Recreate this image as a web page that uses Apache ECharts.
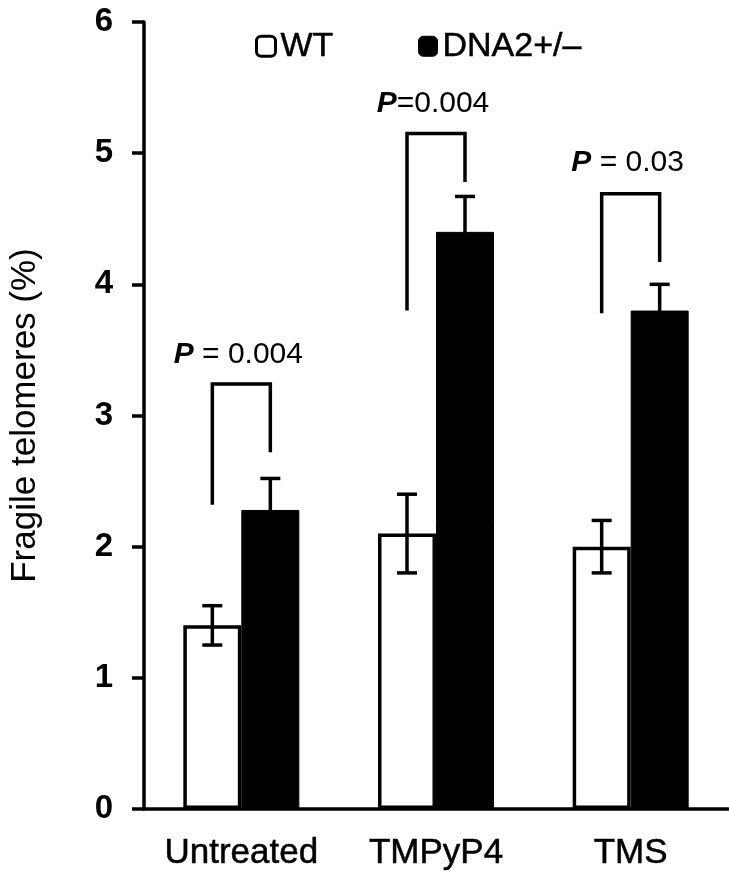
<!DOCTYPE html>
<html>
<head>
<meta charset="utf-8">
<script src="https://cdn.jsdelivr.net/npm/echarts@6/dist/echarts.min.js"></script>
<style>
html,body{margin:0;padding:0;background:#fff;}
#chart{width:729px;height:875px;}
</style>
</head>
<body>
<div id="chart"></div>
<script>
const categories = ['Untreated', 'TMPyP4', 'TMS'];
const seriesNames = ['WT', 'DNA2+/–'];
const wtValues = [1.40, 2.10, 2.00];
const wtErrors = [0.15, 0.30, 0.20];
const dnaValues = [2.28, 4.40, 3.80];
const dnaErrors = [0.24, 0.27, 0.20];
const yMin = 0, yMax = 6, yInterval = 1;
const yAxisTitle = 'Fragile telomeres (%)';
const pTexts = [' = 0.004', '=0.004', ' = 0.03'];
const pTextY = [3.46, 5.38, 4.93];
const bracketLeftY = [2.32, 3.80, 3.78];
const bracketTopY = [3.24, 5.15, 4.69];
const bracketRightY = [2.72, 4.78, 4.17];

const FONT = '"Liberation Sans", Arial, sans-serif';
const BAR_W = 58;

const chart = echarts.init(document.getElementById('chart'), null, {renderer: 'canvas'});

function errorRender(sign) {
  return function (params, api) {
    const i = api.value(0), v = api.value(1), e = api.value(2);
    const top = api.coord([i, v + e]);
    const bot = api.coord([i, v - e]);
    const x = top[0] + sign * BAR_W / 2;
    const cap = 10;
    const style = {stroke: '#000', lineWidth: 3.5};
    return {
      type: 'group',
      children: [
        {type: 'line', shape: {x1: x, y1: top[1], x2: x, y2: bot[1]}, style},
        {type: 'line', shape: {x1: x - cap, y1: top[1], x2: x + cap, y2: top[1]}, style},
        {type: 'line', shape: {x1: x - cap, y1: bot[1], x2: x + cap, y2: bot[1]}, style}
      ]
    };
  };
}

function bracketRender(params, api) {
  const i = api.value(0);
  const l = api.coord([i, api.value(1)]);
  const t = api.coord([i, api.value(2)]);
  const r = api.coord([i, api.value(3)]);
  const p = api.coord([i, api.value(4)]);
  const xl = l[0] - BAR_W / 2, xr = l[0] + BAR_W / 2;
  return {
    type: 'group',
    children: [
      {type: 'polyline', shape: {points: [[xl, l[1]], [xl, t[1]], [xr, t[1]], [xr, r[1]]]},
       style: {stroke: '#000', lineWidth: 3.5, fill: null}},
      {type: 'text', x: p[0] - 3, y: p[1],
       style: {
         text: '{p|P}{n|' + pTexts[params.dataIndex] + '}',
         align: 'center', verticalAlign: 'middle',
         fontFamily: FONT, fontSize: 30, fill: '#000',
         rich: {
           p: {fontStyle: 'italic', fontWeight: 'bold', fontFamily: FONT, fontSize: 30, fill: '#000'},
           n: {fontFamily: FONT, fontSize: 30, fill: '#000', textStrokeWidth: 0.6, textStroke: '#000'}
         }
       }}
    ]
  };
}

const legendCommon = {
  top: 24, itemWidth: 19, itemHeight: 20, itemGap: 8,
  textStyle: {fontFamily: FONT, fontSize: 34, color: '#000', textBorderColor: '#000', textBorderWidth: 0.5},
  selectedMode: false
};

const option = {
  backgroundColor: '#fff',
  animation: false,
  grid: {left: 124, right: 1, top: 22, bottom: 66, containLabel: false},
  legend: [
    Object.assign({}, legendCommon, {left: 250,
      data: [{name: seriesNames[0], icon: 'roundRect', itemStyle: {color: '#fff', borderColor: '#000', borderWidth: 3}}]}),
    Object.assign({}, legendCommon, {left: 413,
      data: [{name: seriesNames[1], icon: 'roundRect', itemStyle: {color: '#000', borderColor: '#000', borderWidth: 1}}]})
  ],
  xAxis: {
    type: 'category',
    data: categories,
    axisLine: {lineStyle: {color: '#000', width: 3.5}},
    axisTick: {show: false},
    axisLabel: {fontFamily: FONT, fontSize: 35, color: '#000', margin: 27, interval: 0,
                textBorderColor: '#000', textBorderWidth: 0.5}
  },
  yAxis: {
    type: 'value', min: yMin, max: yMax, interval: yInterval,
    name: yAxisTitle, nameLocation: 'middle', nameGap: 101, nameRotate: 90,
    nameTextStyle: {fontFamily: FONT, fontSize: 35, color: '#000'},
    axisLine: {show: true, lineStyle: {color: '#000', width: 3.5}},
    axisTick: {show: true, length: 12, lineStyle: {color: '#000', width: 3.5}},
    splitLine: {show: false},
    axisLabel: {fontFamily: FONT, fontWeight: 'bold', fontSize: 33, color: '#000', margin: 31}
  },
  series: [
    {
      name: seriesNames[0], type: 'bar', data: wtValues,
      barWidth: BAR_W, barGap: '0%',
      itemStyle: {color: '#fff', borderColor: '#000', borderWidth: 3.5},
      z: 2
    },
    {
      name: seriesNames[1], type: 'bar', data: dnaValues,
      barWidth: BAR_W, barGap: '0%',
      itemStyle: {color: '#000', borderColor: '#000', borderWidth: 1},
      z: 2
    },
    {
      type: 'custom', renderItem: errorRender(-1), z: 5,
      data: wtValues.map((v, i) => [i, v, wtErrors[i]]),
      encode: {x: 0, y: 1}, silent: true
    },
    {
      type: 'custom', renderItem: errorRender(1), z: 5,
      data: dnaValues.map((v, i) => [i, v, dnaErrors[i]]),
      encode: {x: 0, y: 1}, silent: true
    },
    {
      type: 'custom', renderItem: bracketRender, z: 6,
      data: categories.map((c, i) => [i, bracketLeftY[i], bracketTopY[i], bracketRightY[i], pTextY[i]]),
      encode: {x: 0, y: [1, 2, 3, 4]}, silent: true
    }
  ]
};
chart.setOption(option);
</script>
</body>
</html>
